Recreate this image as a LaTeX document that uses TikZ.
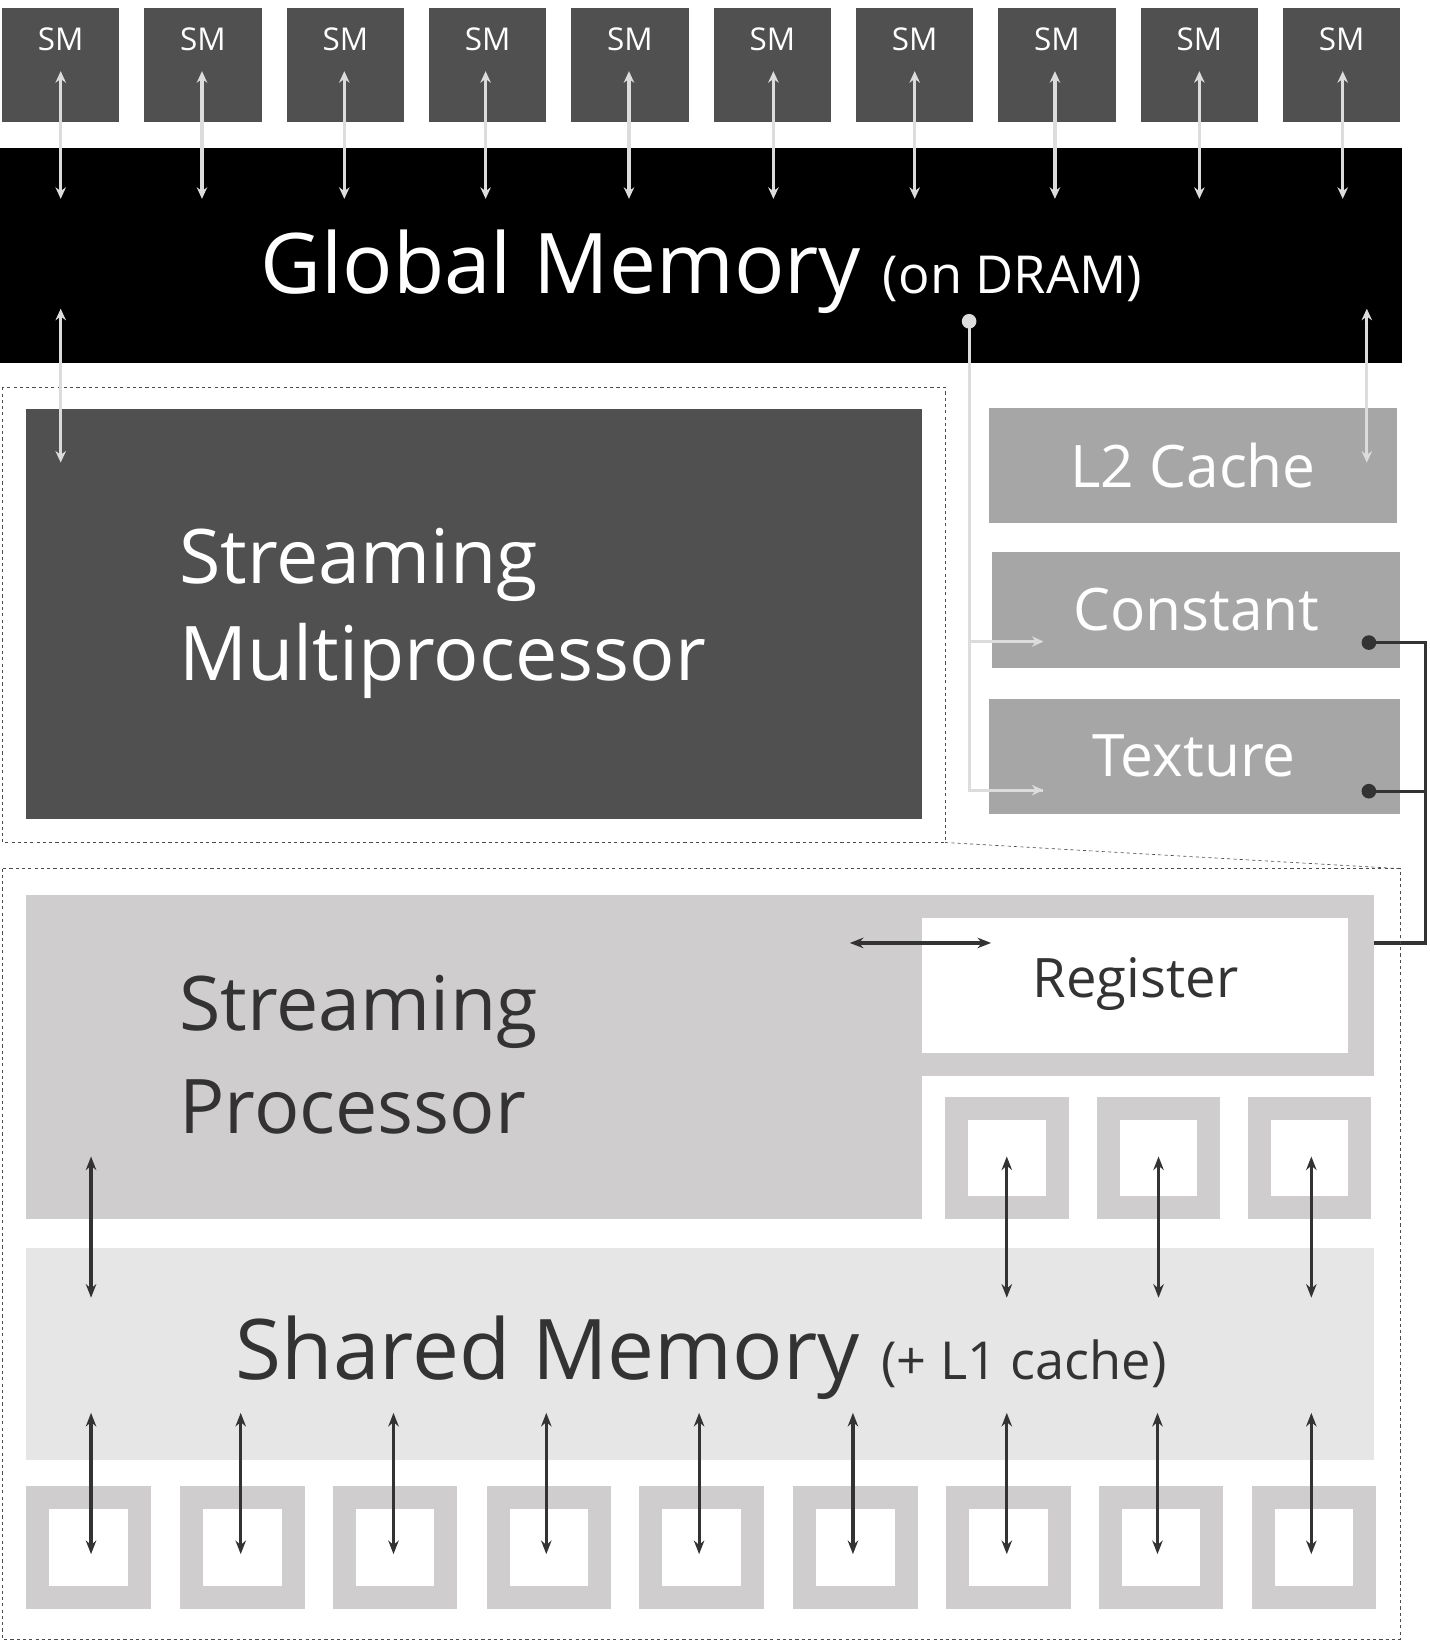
\documentclass[tikz,border=0pt]{standalone}
\usepackage{fontspec}
\setmainfont{Open Sans}
\usetikzlibrary{arrows.meta}
\definecolor{dk}{HTML}{505050}
\definecolor{mg}{HTML}{A6A6A6}
\definecolor{lg}{HTML}{CFCDCE}
\definecolor{vl}{HTML}{E6E6E6}
\definecolor{la}{HTML}{DCDCDC}
\definecolor{da}{HTML}{333333}
\begin{document}
\begin{tikzpicture}[x=1pt,y=-1pt,
  larr/.style={la,line width=3pt,{Stealth[length=11pt,width=10pt]}-{Stealth[length=11pt,width=10pt]}},
  darr/.style={da,line width=3pt,{Stealth[length=13pt,width=10pt]}-{Stealth[length=13pt,width=10pt]}},
  dbox/.style={dashed,line width=0.6pt,black!70}]
\useasboundingbox[fill=white] (0,0) rectangle (1366,1568);
% SM boxes
\foreach \i in {0,...,9}{
  \fill[dk] ({2+136*\i},8) rectangle ({114+136*\i},117);
  \node[white,font=\fontsize{30}{32}\selectfont] (sm\i) at ({58+136*\i},38) {SM};
}
\fill[black] (0,141) rectangle (1340,347);
\node[white,anchor=base] (gm) at (670,280) {\fontsize{80}{90}\selectfont Global Memory \fontsize{50}{60}\selectfont(on DRAM)};
\foreach \x in {58,193,329,464,601,739,874,1008,1146,1283}{
  \coordinate (a) at (\x,68); \coordinate (b) at (\x,190);
  \draw[larr] (a) -- (b);
}
% SM region
\draw[dbox] (2,370) rectangle (903,805);
\fill[dk] (25,391) rectangle (881,783);
\node[white,anchor=west,align=left,font=\fontsize{72}{92}\selectfont] (smp) at (168,586) {Streaming\\Multiprocessor};
\coordinate (g1) at (58,295); \coordinate (g2) at (58,442);
\draw[larr] (g1) -- (g2);
\coordinate (g3) at (1306,295); \coordinate (g4) at (1306,442);
% caches
\fill[mg] (945,390) rectangle (1335,500);
\node[white,font=\fontsize{56}{60}\selectfont] (l2) at (1140,445) {L2 Cache};
\draw[larr] (g3) -- (g4);
\fill[mg] (948,527) rectangle (1338,638);
\node[white,font=\fontsize{56}{60}\selectfont] (con) at (1143,582) {Constant};
\fill[mg] (945,668) rectangle (1338,778);
\node[white,font=\fontsize{56}{60}\selectfont] (tex) at (1141,722) {Texture};
\coordinate (dot) at (926,307); \coordinate (c1) at (997,613); \coordinate (c2) at (997,755);
\draw[la,line width=3pt] (dot) |- (c2);
\draw[la,line width=3pt,-{Stealth[length=11pt,width=10pt]}] (926,613) -- (c1);
\draw[la,line width=3pt,-{Stealth[length=11pt,width=10pt]}] (926,755) -- (c2);
\fill[la] (dot) circle (7);
\coordinate (d1) at (1308,614); \coordinate (d2) at (1308,756); \coordinate (rg) at (1245,901);
\draw[da,line width=3pt] (d1) -- (1362,614) -- (1362,756) -- (d2);
\draw[da,line width=3pt,-{Stealth[length=13pt,width=10pt]}] (1362,756) |- (rg);
\fill[da] (d1) circle (7) (d2) circle (7);
% lower dashed
\draw[dbox] (903,805) -- (1338,830);
\draw[dbox] (2,830) rectangle (1338,1566);
% SP
\fill[lg] (25,855) rectangle (881,1165);
\fill[lg] (881,855) rectangle (1313,1028);
\fill[white] (881,877) rectangle (1288,1006);
\node[font=\fontsize{52}{56}\selectfont,text=da] (reg) at (1085,940) {Register};
\node[text=da,anchor=west,align=left,font=\fontsize{72}{98}\selectfont] (sp) at (168,1008) {Streaming\\Processor};
\foreach \x in {903,1048,1192}{
  \fill[lg] (\x,1048) rectangle ({\x+118},1165);
  \fill[white] ({\x+22},1070) rectangle ({\x+96},1143);
}
\fill[vl] (25,1192) rectangle (1313,1395);
\node[text=da,anchor=base] (sh) at (670,1318) {\fontsize{80}{90}\selectfont Shared Memory \fontsize{50}{60}\selectfont(+ L1 cache)};
\foreach \x in {25,172,318,465,611,758,904,1050,1196}{
  \fill[lg] (\x,1420) rectangle ({\x+119},1537);
  \fill[white] ({\x+22},1442) rectangle ({\x+97},1515);
}
\foreach \x in {87,962,1107,1253}{
  \coordinate (p) at (\x,1105); \coordinate (q) at (\x,1240);
  \draw[darr] (p) -- (q);
}
\foreach \x in {87,230,376,522,668,815,962,1106,1253}{
  \coordinate (p) at (\x,1350); \coordinate (q) at (\x,1485);
  \draw[darr] (p) -- (q);
}
\coordinate (r1) at (812,901); \coordinate (r2) at (947,901);
\draw[darr] (r1) -- (r2);
\end{tikzpicture}
\end{document}
